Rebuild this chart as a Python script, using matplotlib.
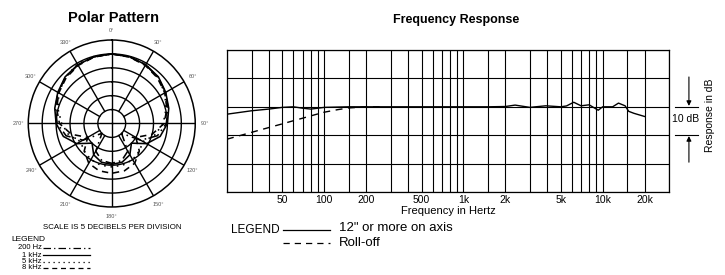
import numpy as np
import matplotlib
matplotlib.use("Agg")
import matplotlib.pyplot as plt
from matplotlib.transforms import blended_transform_factory
from matplotlib.lines import Line2D

plt.rcParams['font.family'] = ['Liberation Sans', 'DejaVu Sans']

# ---------------- data ----------------
# Frequency response
freq_solid = [20, 30, 40, 50, 60, 70, 80, 90, 100, 150, 200, 300, 500, 1000, 1500,
              2000, 2350, 3000, 3900, 5000, 5500, 6200, 7000, 8000, 9000, 9300,
              10000, 11800, 13000, 14500, 15400, 16800, 20000]
db_solid = [-2.6, -1.4, -0.8, -0.2, 0.0, -0.5, -0.8, -0.5, -0.2, 0.0, 0.0, 0.0, 0.0, 0.0, 0.0,
            0.1, 0.6, -0.2, 0.35, 0.0, 0.3, 1.6, 0.35, 0.7, -0.8, -1.2,
            0.0, 0.0, 1.3, 0.35, -1.6, -2.3, -3.4]
freq_rolloff = [20, 30, 40, 50, 60, 70, 80, 90, 100, 125, 150, 200, 250]
db_rolloff = [-11.4, -9.0, -7.3, -6.0, -4.9, -4.0, -3.2, -2.5, -1.9, -1.0, -0.4, 0.0, 0.0]
freq_ticks = [50, 100, 200, 500, 1000, 2000, 5000, 10000, 20000]
freq_tick_labels = ['50', '100', '200', '500', '1k', '2k', '5k', '10k', '20k']
freq_grid = [20, 30, 40, 50, 60, 70, 80, 90, 100, 150, 200, 300, 400, 500, 600, 700, 800,
             900, 1000, 1500, 2000, 3000, 4000, 5000, 6000, 7000, 8000, 9000, 10000,
             15000, 20000, 30000]
db_grid = [-30, -20, -10, 0, 10, 20]

# Polar pattern (degrees, dB relative to on-axis)
polar_angles = [0, 15, 30, 45, 60, 75, 90, 105, 120, 135, 150, 165, 180,
                195, 210, 225, 240, 255, 270, 285, 300, 315, 330, 345, 360]
polar_200hz = [0, -0.2, -0.7, -1.5, -2.7, -4.0, -5.4, -8.0, -13.0, -20.0, -13.5, -11.2, -10.7,
               -11.2, -13.5, -20.0, -13.0, -8.0, -5.4, -4.0, -2.7, -1.5, -0.7, -0.2, 0]
polar_1khz = [0, -0.2, -0.6, -1.3, -2.6, -3.8, -5.0, -7.0, -10.5, -15.0, -12.0, -10.6, -10.3,
              -10.6, -12.0, -15.0, -10.5, -7.0, -5.0, -3.8, -2.6, -1.3, -0.6, -0.2, 0]
polar_5khz = [0, -0.1, -0.6, -1.6, -3.0, -4.8, -6.5, -9.0, -12.0, -11.0, -10.0, -9.5, -9.4,
              -9.5, -10.0, -11.0, -12.0, -9.0, -7.0, -5.0, -3.0, -1.5, -0.3, -0.1, 0]
polar_8khz = [0, -0.3, -0.9, -1.8, -3.0, -4.5, -6.2, -10.0, -15.0, -11.0, -8.5, -7.4, -7.1,
              -7.4, -8.5, -11.0, -15.0, -10.0, -6.2, -4.5, -3.0, -1.8, -0.9, -0.3, 0]
polar_label_angles = [0, 30, 60, 90, 120, 150, 180, 210, 240, 270, 300, 330]
polar_rings = [5, 10, 15, 20, 25]
R_OFFSET = 25   # on-axis 0 dB sits on the second ring; outer ring = 30

# ---------------- figure ----------------
fig = plt.figure(figsize=(7.25, 2.75), dpi=100)
fig.patch.set_facecolor('white')

# ---- Polar ----
axp = fig.add_axes([0.039, 0.2473, 0.2303, 0.6073], projection='polar')
axp.set_theta_zero_location('N')
axp.set_theta_direction(-1)
axp.set_ylim(0, 30)
axp.grid(False)
axp.set_xticks([])
axp.set_yticks([])
axp.spines['polar'].set_linewidth(1.1)
axp.spines['polar'].set_color('black')

tfine = np.linspace(0, 2 * np.pi, 361)
for r in polar_rings:
    axp.plot(tfine, np.full_like(tfine, r), color='black', lw=1.0, zorder=1)
for a in polar_label_angles:
    th = np.deg2rad(a)
    r0 = 0 if a % 90 == 0 else 5
    axp.plot([th, th], [r0, 30], color='black', lw=1.0, zorder=1)
    axp.text(th, 33.5, f"{a}°", fontsize=4, color='#555555', ha='center', va='center',
             clip_on=False)

th = np.deg2rad(polar_angles)
styles = [
    (polar_200hz, (0, (6, 2.5, 1, 2.5))),
    (polar_1khz, '-'),
    (polar_5khz, (0, (1, 3))),
    (polar_8khz, (0, (4, 3))),
]
for vals, ls in styles:
    axp.plot(th, np.array(vals) + R_OFFSET, color='black', lw=1.15, ls=ls, zorder=3)

fig.text(0.157, 0.9345, 'Polar Pattern', fontsize=10.5, fontweight='bold',
         ha='center', va='center')
fig.text(0.1545, 0.172, 'SCALE IS 5 DECIBELS PER DIVISION', fontsize=5.7,
         ha='center', va='center')
fig.text(0.0152, 0.1309, 'LEGEND', fontsize=6, ha='left', va='center')
leg_rows = [('200 Hz', 0.0982, (0, (6, 2.5, 1, 2.5))),
            ('1 kHz', 0.0727, '-'),
            ('5 kHz', 0.0473, (0, (1, 3))),
            ('8 kHz', 0.0255, (0, (4, 3)))]
for lab, y, ls in leg_rows:
    fig.text(0.0579, y, lab, fontsize=5.5, ha='right', va='center')
    fig.add_artist(Line2D([0.0593, 0.1241], [y, y], color='black', lw=0.9, ls=ls,
                          transform=fig.transFigure))

# ---- Frequency response ----
axf = fig.add_axes([0.3131, 0.3018, 0.6097, 0.5164])
axf.set_xscale('log')
for f in freq_grid:
    axf.axvline(f, color='black', lw=0.8, zorder=1)
for d in db_grid:
    axf.axhline(d, color='black', lw=0.8, zorder=1)
axf.plot(freq_solid, db_solid, color='black', lw=1.0, zorder=3)
axf.plot(freq_rolloff, db_rolloff, color='black', lw=1.0, ls=(0, (5, 4)), zorder=3)
axf.set_xlim(20, 30000)
axf.set_ylim(-30, 20)
axf.set_yticks([])
axf.set_xticks(freq_ticks)
axf.set_xticklabels(freq_tick_labels)
axf.xaxis.set_minor_locator(matplotlib.ticker.NullLocator())
axf.tick_params(axis='x', length=0, pad=2, labelsize=7.5)
for s in axf.spines.values():
    s.set_linewidth(0.9)
axf.set_xlabel('Frequency in Hertz', fontsize=8, labelpad=1)

blend = blended_transform_factory(axf.transAxes, axf.transData)
for d in [0, -10]:
    axf.add_line(Line2D([1.0136, 1.0656], [d, d], color='black', lw=0.8,
                        transform=blend, clip_on=False))
axf.annotate('', xy=(1.045, 0.3), xytext=(1.045, 10.5), xycoords=blend, textcoords=blend,
             arrowprops=dict(arrowstyle='-|>', color='black', lw=0.8, mutation_scale=7,
                             shrinkA=0, shrinkB=0), annotation_clip=False)
axf.annotate('', xy=(1.045, -10.3), xytext=(1.045, -19.5), xycoords=blend, textcoords=blend,
             arrowprops=dict(arrowstyle='-|>', color='black', lw=0.8, mutation_scale=7,
                             shrinkA=0, shrinkB=0), annotation_clip=False)
axf.text(1.038, -4.3, '10 dB', transform=blend, fontsize=7.5, ha='center', va='center')
axf.text(1.0928, 0.542, 'Response in dB', transform=axf.transAxes, fontsize=7.5,
         rotation=90, ha='center', va='center')

fig.text(0.629, 0.927, 'Frequency Response', fontsize=9, fontweight='bold',
         ha='center', va='center')
fig.text(0.3186, 0.1636, 'LEGEND', fontsize=8.5, ha='left', va='center')
fig.add_artist(Line2D([0.3903, 0.4552], [0.1636, 0.1636], color='black', lw=0.9,
                      transform=fig.transFigure))
fig.add_artist(Line2D([0.3903, 0.4552], [0.1164, 0.1164], color='black', lw=0.9,
                      ls=(0, (5, 4)), transform=fig.transFigure))
fig.text(0.4676, 0.171, '12" or more on axis', fontsize=9.5, ha='left', va='center')
fig.text(0.4676, 0.1164, 'Roll-off', fontsize=9.5, ha='left', va='center')

fig.savefig('out.png', dpi=100, facecolor='white')
